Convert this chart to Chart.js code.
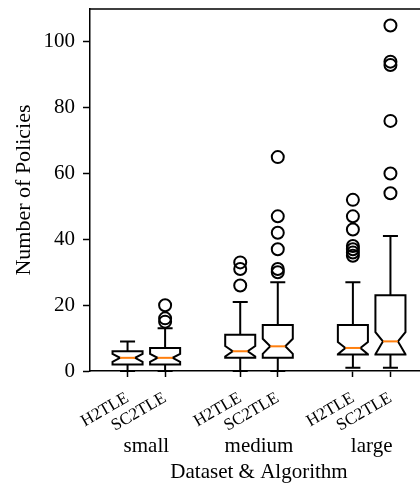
<!DOCTYPE html>
<html>
<head>
<meta charset="utf-8">
<script src="https://cdn.jsdelivr.net/npm/chart.js@4"></script>
<style>
  html, body { margin: 0; padding: 0; background: #fff; overflow: hidden; }
  #wrap { width: 420px; height: 483px; overflow: hidden; }
  #box { width: 440px; height: 483px; }
</style>
</head>
<body>
<div id="wrap"><div id="box"><canvas id="chart" width="440" height="483"></canvas></div></div>
<script>
// box positions on the x axis and their labels
const positions = [1, 2, 4, 5, 7, 8];
const algoLabels = ['H2TLE', 'SC2TLE', 'H2TLE', 'SC2TLE', 'H2TLE', 'SC2TLE'];
const groupLabels = ['small', 'medium', 'large'];
const groupCenters = [1.5, 4.5, 7.5];

// box statistics, one entry per box
const whiskerLo = [0, 0, 0, 0, 1, 1];
const q1 = [2, 2, 4, 4, 5, 5];
const medians = [4, 4, 6, 7.5, 7, 9];
const q3 = [6, 7, 11, 14, 14, 23];
const whiskerHi = [9, 13, 21, 27, 27, 41];
const notchLo = [2.8, 2.8, 4.4, 5.2, 5.1, 5.1];
const notchHi = [5.2, 5.2, 7.6, 9.8, 8.8, 11.8];
const fliers = [
    [],
    [20, 16, 15],
    [33, 31, 26],
    [65, 47, 42, 37, 31, 30],
    [52, 47, 43, 38, 37, 36, 35],
    [105, 94, 93, 76, 60, 54]
];

const yTicks = [0, 20, 40, 60, 80, 100];

const serif = '"Liberation Serif", "DejaVu Serif", serif';
const boxWidth = 0.8;

const flierPoints = [];
fliers.forEach((list, i) => list.forEach(v => flierPoints.push({ x: positions[i], y: v })));

// draws the notched boxes, whiskers and caps
const boxPlugin = {
    id: 'boxes',
    beforeDatasetsDraw(chart) {
        const { ctx, scales: { x, y } } = chart;
        ctx.save();
        ctx.lineWidth = 2;
        ctx.strokeStyle = '#000';
        ctx.lineJoin = 'miter';
        positions.forEach((p, i) => {
            const bl = x.getPixelForValue(p - boxWidth / 2);
            const br = x.getPixelForValue(p + boxWidth / 2);
            const ml = x.getPixelForValue(p - boxWidth / 4);
            const mr = x.getPixelForValue(p + boxWidth / 4);
            const cx = x.getPixelForValue(p);

            // whiskers
            ctx.beginPath();
            ctx.moveTo(cx, y.getPixelForValue(q1[i]));
            ctx.lineTo(cx, y.getPixelForValue(whiskerLo[i]));
            ctx.moveTo(cx, y.getPixelForValue(q3[i]));
            ctx.lineTo(cx, y.getPixelForValue(whiskerHi[i]));
            // caps
            ctx.moveTo(ml, y.getPixelForValue(whiskerLo[i]));
            ctx.lineTo(mr, y.getPixelForValue(whiskerLo[i]));
            ctx.moveTo(ml, y.getPixelForValue(whiskerHi[i]));
            ctx.lineTo(mr, y.getPixelForValue(whiskerHi[i]));
            ctx.stroke();

            // notched box
            ctx.beginPath();
            ctx.moveTo(bl, y.getPixelForValue(q1[i]));
            ctx.lineTo(br, y.getPixelForValue(q1[i]));
            ctx.lineTo(br, y.getPixelForValue(notchLo[i]));
            ctx.lineTo(mr, y.getPixelForValue(medians[i]));
            ctx.lineTo(br, y.getPixelForValue(notchHi[i]));
            ctx.lineTo(br, y.getPixelForValue(q3[i]));
            ctx.lineTo(bl, y.getPixelForValue(q3[i]));
            ctx.lineTo(bl, y.getPixelForValue(notchHi[i]));
            ctx.lineTo(ml, y.getPixelForValue(medians[i]));
            ctx.lineTo(bl, y.getPixelForValue(notchLo[i]));
            ctx.closePath();
            ctx.fillStyle = '#fff';
            ctx.fill();
            ctx.stroke();

            // median
            ctx.beginPath();
            ctx.strokeStyle = '#ff7f0e';
            ctx.moveTo(ml, y.getPixelForValue(medians[i]));
            ctx.lineTo(mr, y.getPixelForValue(medians[i]));
            ctx.stroke();
            ctx.strokeStyle = '#000';
        });
        ctx.restore();
    },
    afterDraw(chart) {
        const { ctx, chartArea, scales: { x } } = chart;
        ctx.save();
        // top and right spines
        ctx.strokeStyle = '#000';
        ctx.lineWidth = 1.5;
        ctx.beginPath();
        ctx.moveTo(chartArea.left, chartArea.top);
        ctx.lineTo(chartArea.right, chartArea.top);
        ctx.lineTo(chartArea.right, chartArea.bottom);
        ctx.stroke();
        // group labels under the rotated tick labels
        ctx.fillStyle = '#000';
        ctx.font = '21px ' + serif;
        ctx.textAlign = 'center';
        ctx.textBaseline = 'middle';
        groupLabels.forEach((g, i) => {
            ctx.fillText(g, x.getPixelForValue(groupCenters[i]), chartArea.bottom + 75);
        });
        ctx.restore();
    }
};

new Chart(document.getElementById('chart'), {
    type: 'scatter',
    data: {
        datasets: [{
            label: 'fliers',
            data: flierPoints,
            pointStyle: 'circle',
            pointRadius: 6,
            pointHoverRadius: 6,
            pointBorderWidth: 2,
            borderColor: '#000',
            backgroundColor: 'rgba(0,0,0,0)'
        }]
    },
    options: {
        responsive: false,
        animation: false,
        events: [],
        layout: { padding: { top: 9, right: 12, left: 0, bottom: 0 } },
        plugins: { legend: { display: false }, tooltip: { enabled: false } },
        scales: {
            x: {
                type: 'linear',
                min: 0,
                max: 9,
                afterBuildTicks: s => { s.ticks = positions.map(v => ({ value: v })); },
                afterFit: s => { s.height = 112; s.paddingLeft = 0; s.paddingRight = 0; },
                ticks: {
                    autoSkip: false,
                    minRotation: 30,
                    maxRotation: 30,
                    padding: 11,
                    color: '#000',
                    font: { family: serif, size: 17 },
                    callback: v => algoLabels[positions.indexOf(v)]
                },
                grid: { display: true, drawOnChartArea: false, drawTicks: true, tickLength: 6, tickColor: '#000', tickWidth: 1.5 },
                border: { display: true, color: '#000', width: 1.5 },
                title: {
                    display: true,
                    text: 'Dataset & Algorithm',
                    color: '#000',
                    font: { family: serif, size: 21, lineHeight: 1 },
                    padding: { top: 0, bottom: 0 }
                }
            },
            y: {
                min: 0,
                max: 110,
                afterBuildTicks: s => { s.ticks = yTicks.map(v => ({ value: v })); },
                afterFit: s => { s.width = 90; s.paddingTop = 0; s.paddingBottom = 0; },
                ticks: {
                    padding: 8,
                    color: '#000',
                    font: { family: serif, size: 21 }
                },
                grid: { display: true, drawOnChartArea: false, drawTicks: true, tickLength: 7, tickColor: '#000', tickWidth: 1.5 },
                border: { display: true, color: '#000', width: 1.5 },
                title: {
                    display: true,
                    text: 'Number of Policies',
                    color: '#000',
                    font: { family: serif, size: 22, lineHeight: 1.2 },
                    padding: { top: 11, bottom: 0 }
                }
            }
        }
    },
    plugins: [boxPlugin]
});
</script>
</body>
</html>
